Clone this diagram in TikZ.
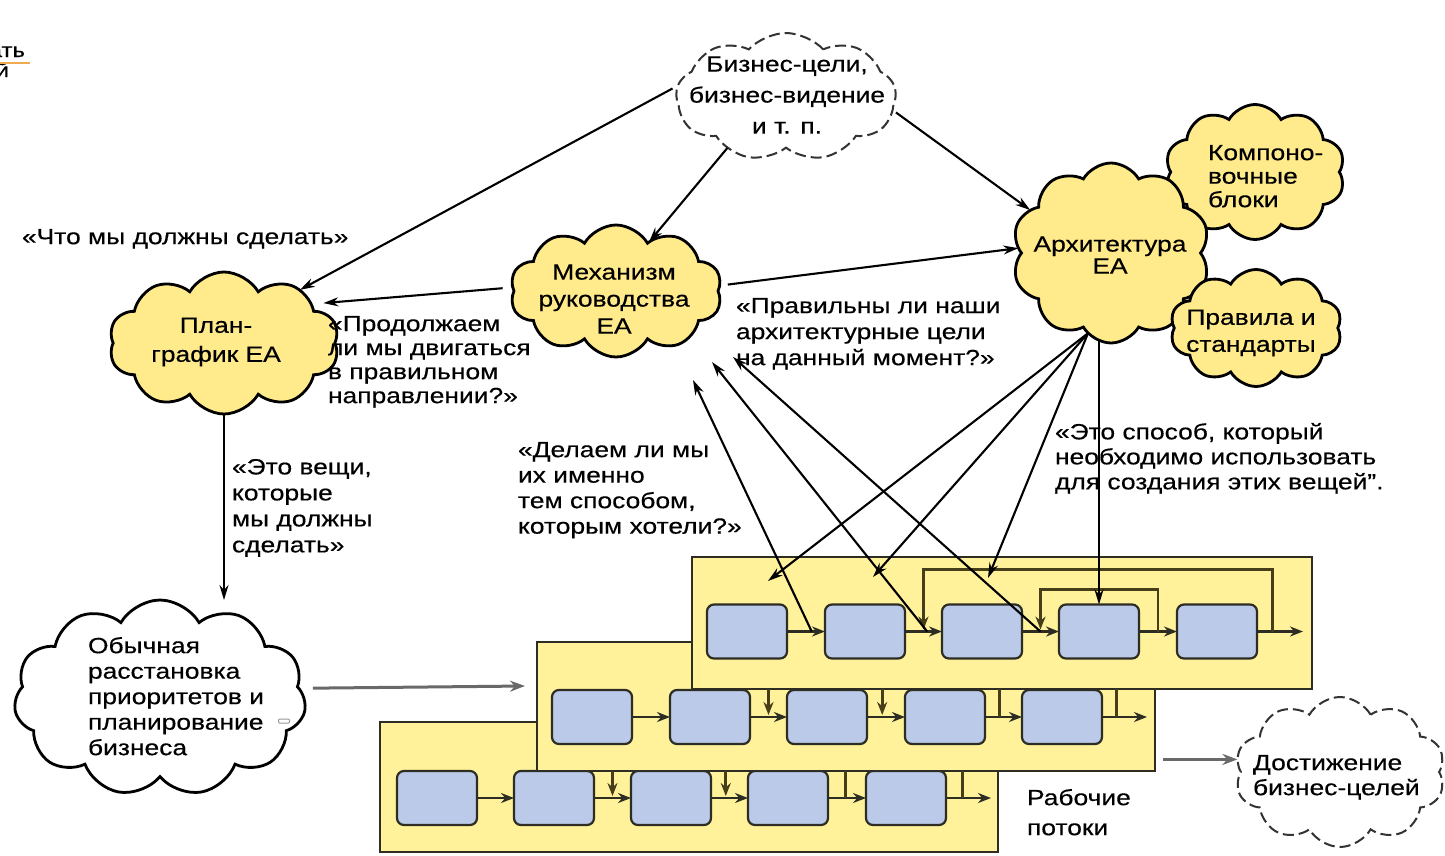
\documentclass[tikz,border=0pt]{standalone}
\usepackage{fontspec}
\setmainfont{Liberation Sans}[FakeStretch=1.2,FakeBold=0.4]
\usetikzlibrary{shapes.symbols,arrows.meta,calc}
\definecolor{lanefill}{RGB}{255,242,155}
\definecolor{cloudfill}{RGB}{255,234,140}
\definecolor{boxfill}{RGB}{186,202,232}
\definecolor{edgec}{RGB}{45,45,35}
\definecolor{loopc}{RGB}{70,62,25}
\definecolor{grayarr}{RGB}{105,105,105}
\definecolor{logoorange}{RGB}{240,170,80}
\begin{document}
\begin{tikzpicture}[x=1pt,y=-1pt,
  every node/.style={inner sep=0pt, outer sep=0pt},
  txt/.style={font=\fontsize{22}{25}\selectfont, align=left, anchor=north west, text=black},
  ctxt/.style={align=center, text=black},
  cloudbase/.style={cloud, cloud puffs=#1, cloud puff arc=120, cloud ignores aspect},
  ycloud/.style={cloudbase=10, fill=cloudfill, draw=black, line width=2.8pt},
  wcloud/.style={cloudbase=10, fill=white, draw=black!80, line width=2pt, dash pattern=on 11pt off 5pt},
  lane/.style={fill=lanefill, draw=edgec, line width=2.8pt},
  wbox/.style={fill=boxfill, draw=edgec, line width=2.2pt, rounded corners=7pt, minimum width=80pt, minimum height=54pt},
  flow/.style={draw=black, line width=2.1pt, -{Stealth[length=15pt,width=9pt]}},
  conn/.style={draw=edgec, line width=2.2pt, -{Stealth[length=13pt,width=10pt]}},
  loopl/.style={draw=loopc, line width=2.8pt},
  looparr/.style={draw=loopc, line width=2.8pt, -{Stealth[length=13pt,width=10pt]}, shorten >=2pt},
  grayflow/.style={draw=grayarr, line width=3pt, -{Stealth[length=15pt,width=11pt]}},
]
\useasboundingbox (0,0) rectangle (1445,855);

% logo fragment
\node[anchor=base east, font=\fontsize{20}{22}\selectfont] (logoa) at (25,57) {ать};
\node[anchor=base east, font=\fontsize{20}{22}\selectfont] (logob) at (9,77) {й};
\draw[logoorange, line width=1.5pt] (0,63) -- (30,63);

% ---------- clouds ----------
\node[wcloud, cloud puffs=9, cloud puff arc=95, minimum width=220pt, minimum height=128pt] (biz) at (786,97) {};
\node[ycloud, minimum width=212pt, minimum height=132pt] (mech) at (616,291) {};
\node[ycloud, minimum width=230pt, minimum height=142pt] (plan) at (224,343) {};
\node[ycloud, minimum width=180pt, minimum height=135pt] (komp) at (1255,172) {};
\node[ycloud, minimum width=198pt, minimum height=180pt] (arch) at (1111,253) {};
\node[ycloud, minimum width=172pt, minimum height=117pt] (prav) at (1256,328) {};
\node[cloudbase=11, fill=white, draw=black, line width=2.8pt, minimum width=292pt, minimum height=196pt] (obych) at (160,698) {};
\node[wcloud, minimum width=210pt, minimum height=150pt] (dost) at (1340,772) {};

% cloud texts
\node[ctxt, font=\fontsize{22}{31}\selectfont] (tbiz) at (787,95) {Бизнес-цели,\\бизнес-видение\\и т. п.};
\node[ctxt, font=\fontsize{22}{27}\selectfont] (tmech) at (614,299) {Механизм\\руководства\\EA};
\node[ctxt, font=\fontsize{22}{29}\selectfont] (tplan) at (216,342) {План-\\график EA};
\node[ctxt, font=\fontsize{22}{22}\selectfont] (tarch) at (1110,255) {Архитектура\\EA};
\node[txt, font=\fontsize{22}{23.5}\selectfont] (tkomp) at (1208,145) {Компоно-\\вочные\\блоки};
\node[ctxt, font=\fontsize{22}{27}\selectfont] (tprav) at (1251,333) {Правила и\\стандарты};
\node[txt, font=\fontsize{22}{25.5}\selectfont] (tobych) at (88,637) {Обычная\\расстановка\\приоритетов и\\планирование\\бизнеса};
\node[txt] (tdost) at (1253,755) {Достижение\\бизнес-целей};
\node[draw=black!40, fill=white, line width=1pt, minimum width=11pt, minimum height=4pt, rounded corners=1pt] (mark1) at (284,721) {};

% labels
\node[txt] (l1) at (22,229) {«Что мы должны сделать»};
\node[txt, font=\fontsize{22}{24}\selectfont] (l2) at (328,316) {«Продолжаем\\ли мы двигаться\\в правильном\\направлении?»};
\node[txt, font=\fontsize{22}{26}\selectfont] (l3) at (736,298) {«Правильны ли наши\\архитектурные цели\\на данный момент?»};
\node[txt, font=\fontsize{22}{25.5}\selectfont] (l4) at (518,442) {«Делаем ли мы\\их именно\\тем способом,\\которым хотели?»};
\node[txt] (l5) at (1055,423) {«Это способ, который\\необходимо использовать\\для создания этих вещей".};
\node[txt, font=\fontsize{22}{26}\selectfont] (l6) at (232,459) {«Это вещи,\\которые\\мы должны\\сделать»};
\node[txt, font=\fontsize{22}{30}\selectfont] (l7) at (1027,789) {Рабочие\\потоки};

% ---------- lane 3 ----------
\node[lane, minimum width=618pt, minimum height=130pt] (L3) at (689,787) {};
\foreach \i/\x in {1/437,2/554,3/671,4/788,5/906}
  \node[wbox] (b3\i) at (\x,798) {};
\coordinate (o3) at (991,798);
\draw[conn] (b31.east) -- (b32.west);
\draw[conn] (b32.east) -- (b33.west);
\draw[conn] (b33.east) -- (b34.west);
\draw[conn] (b34.east) -- (b35.west);
\draw[conn] (b35.east) -- (o3);

% ---------- lane 2 ----------
\node[lane, minimum width=618pt, minimum height=129pt] (L2) at (846,706.5) {};
\foreach \i/\x in {1/592,2/710,3/827,4/945,5/1062}
  \node[wbox] (b2\i) at (\x,717) {};
\coordinate (o2) at (1147,717);
\draw[conn] (b21.east) -- (b22.west);
\draw[conn] (b22.east) -- (b23.west);
\draw[conn] (b23.east) -- (b24.west);
\draw[conn] (b24.east) -- (b25.west);
\draw[conn] (b25.east) -- (o2);
% lane 3 ticks (from under lane 2)
\coordinate (t31) at ($(b32.east)!0.5!(b33.west)$);
\coordinate (t32) at ($(b33.east)!0.4!(b34.west)$);
\coordinate (t33) at ($(b34.east)!0.45!(b35.west)$);
\coordinate (t34) at ($(b35.east)!0.36!(o3)$);
\draw[looparr] (t31 |- L2.south) -- (t31);
\draw[looparr] (t32 |- L2.south) -- (t32);
\draw[loopl] (t33 |- L2.south) -- (t33);
\draw[loopl] (t34 |- L2.south) -- (t34);

% ---------- lane 1 ----------
\node[lane, minimum width=620pt, minimum height=132pt] (L1) at (1002,623) {};
\foreach \i/\x in {1/747,2/865,3/982,4/1099,5/1217}
  \node[wbox] (b1\i) at (\x,631.5) {};
\coordinate (o1) at (1303,631.5);
\draw[conn] (b11.east) -- (b12.west);
\draw[conn] (b12.east) -- (b13.west);
\draw[conn] (b13.east) -- (b14.west);
\draw[conn] (b14.east) -- (b15.west);
\draw[conn] (b15.east) -- (o1);
% lane 2 ticks (from under lane 1)
\coordinate (t21) at ($(b22.east)!0.5!(b23.west)$);
\coordinate (t22) at ($(b23.east)!0.4!(b24.west)$);
\coordinate (t23) at ($(b24.east)!0.4!(b25.west)$);
\coordinate (t24) at ($(b25.east)!0.33!(o2)$);
\draw[looparr] (t21 |- L1.south) -- (t21);
\draw[looparr] (t22 |- L1.south) -- (t22);
\draw[loopl] (t23 |- L1.south) -- (t23);
\draw[loopl] (t24 |- L1.south) -- (t24);
% lane 1 loops
\coordinate (m12) at ($(b12.east)!0.5!(b13.west)$);
\coordinate (m34) at ($(b13.east)!0.5!(b14.west)$);
\coordinate (m45) at ($(b14.east)!0.5!(b15.west)$);
\coordinate (m5o) at ($(b15.east)!0.33!(o1)$);
\draw[looparr] (m5o) -- ++(0,-62) -| (m12);
\draw[looparr] (m45) -- ++(0,-42) -| (m34);

% ---------- connectors between clouds ----------
\draw[flow, shorten <=6pt] (biz.174) -- (plan.35);
\draw[flow] (biz.221) -- (mech.56);
\draw[flow, shorten <=4pt] (biz.-7) -- (arch.152);
\draw[flow, shorten <=10pt, shorten >=12pt] (mech.178) -- (plan.24);
\draw[flow, shorten <=8pt] (mech.3) -- (arch.177);
\draw[flow] (plan.south) -- (plan.south |- obych.north);
\coordinate (inflow) at (525,686);
\draw[grayflow, shorten <=14pt] (obych.4) -- (inflow);
\draw[grayflow, shorten <=8pt] (L2.east |- dost.173) -- (dost.173);

% fan from architecture
\coordinate (f1) at (768,581);
\coordinate (f2) at (873,577);
\coordinate (f3) at (988,578);
\draw[flow] (arch.254) -- (f1);
\draw[flow] (arch.254) -- (f2);
\draw[flow] (arch.254) -- (f3);
\draw[flow] (b14.north |- arch.262) -- (b14.north);

% feedback to governance
\coordinate (d1) at (693,380);
\coordinate (d2) at (712,362);
\coordinate (d3) at (733,357);
\draw[flow] ($(b11.east)!0.65!(b12.west)$) -- (d1);
\draw[flow] ($(b12.east)!0.6!(b13.west)$) -- (d2);
\draw[flow] (m34) -- (d3);
\end{tikzpicture}
\end{document}
